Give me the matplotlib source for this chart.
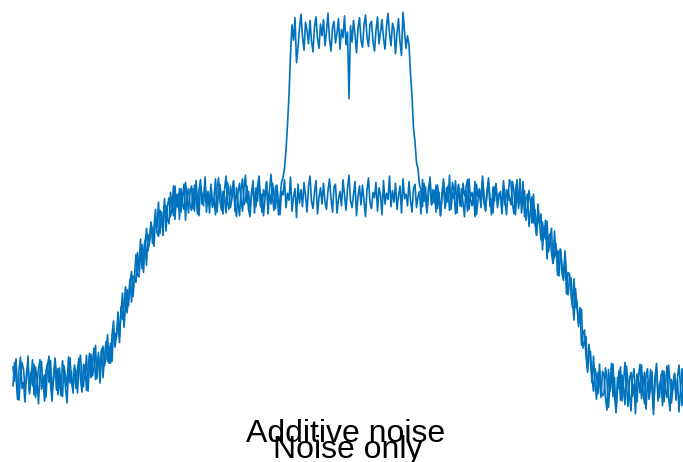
import numpy as np
import matplotlib.pyplot as plt

# power spectrum (dB) per frequency bin
noise_only = [
    -79.1, -80.7, -78.2, -81.9, -82.8, -80.0, -78.6, -79.4, -81.4, -80.5,
    -77.9, -82.1, -79.7, -81.2, -78.8, -82.5, -81.0, -79.3, -78.3, -81.6,
    -80.2, -82.9, -79.5, -78.7, -80.8, -78.4, -81.7, -80.6, -78.1, -79.9,
    -82.2, -79.2, -81.1, -82.4, -79.0, -80.1, -81.3, -78.0, -80.9, -79.6,
    -82.0, -78.9,
    # rising edge
    -81.5, -79.3, -78.1, -80.5, -81.9, -78.8, -80.0, -77.8, -81.8, -78.9,
    -77.7, -80.1, -79.1, -76.7, -80.4, -78.0, -79.4, -77.1, -80.3, -77.9,
    -76.3, -78.5, -76.9, -78.7, -75.6, -74.0, -76.9, -75.5, -73.9, -76.4,
    -72.4, -73.8, -72.4, -70.2, -73.1, -71.5, -69.4, -71.9, -69.0, -69.1,
    -69.7, -66.4, -68.4, -64.9, -68.2, -66.3, -65.0, -67.8, -64.4, -65.1,
    -63.0, -65.4, -63.5, -61.6, -64.2, -64.6, -61.7, -62.4, -62.9, -60.4,
    -64.0, -61.2, -60.3, -62.4, -61.5, -59.0, -62.7, -60.0, -61.4, -59.3,
    -61.9, -60.2, -58.8, -62.8, -59.9, -59.3, -61.1, -61.7,
    -59.3, -61.8, -58.4, -60.6, -62.3, -59.0, -59.9, -61.2, -58.0, -60.9,
    -59.6, -62.0,
    # flat top
    -59.1, -61.4, -60.3, -58.2, -61.9, -59.7, -58.8, -60.6, -62.1, -59.4,
    -57.9, -60.8, -61.6, -59.0, -60.2, -58.5, -61.2, -62.4, -59.8, -58.7,
    -60.5, -61.8, -59.3, -57.8, -60.9, -59.6, -61.5, -60.1, -58.4, -62.0,
    -59.2, -60.7, -58.1, -61.3, -59.9, -62.3, -60.4, -58.6, -61.0, -59.5,
    -57.7, -60.3, -61.7, -59.1, -58.9, -61.1, -62.2, -59.6, -60.0, -58.3,
    -61.4, -59.8, -60.6, -58.0, -61.8, -60.2, -59.3, -62.5, -58.8, -60.9,
    -59.4, -61.3, -58.6, -60.1, -61.9, -59.0, -57.9, -60.7, -61.5, -59.7,
    -58.4, -62.1, -60.3, -59.2, -61.0, -58.7, -60.8, -61.6, -59.5, -58.2,
    -60.4, -61.9, -59.1, -58.8, -62.0, -60.5, -59.6, -61.2, -58.3, -60.0,
    -61.7, -59.3, -57.8, -60.6, -61.4, -59.9, -58.5, -62.3, -60.2, -59.0,
    -61.1, -58.9, -60.7, -62.4, -59.4, -58.1, -60.9, -61.5, -59.7, -60.3,
    -58.6, -61.8, -59.2, -60.0, -62.2, -58.4, -61.0, -59.8, -60.5, -57.9,
    -61.3, -59.5, -60.8, -58.7, -61.6, -60.1, -59.0, -62.0, -58.2, -60.4,
    -59.9, -61.2, -58.5, -60.6, -61.9, -59.3, -58.8, -61.4, -60.2, -59.6,
    -62.1, -58.3, -60.7, -59.1, -61.7, -60.0, -58.0, -61.0, -59.4, -60.9,
    -58.9, -61.5, -59.7, -62.3, -60.3, -58.6, -61.1, -59.2, -60.8, -57.8,
    -61.6, -59.8, -60.4, -58.4, -62.0, -59.0, -60.6, -61.3, -58.7, -60.1,
    -59.5, -61.8, -58.2, -60.5, -61.2, -59.9, -62.4, -58.8, -60.2, -59.3,
    -61.0, -58.5, -60.9, -61.7, -59.6, -58.1, -60.3, -62.2, -59.1, -60.7,
    -58.7, -61.4, -59.8, -60.0, -62.1, -58.9, -61.1, -59.4, -60.6, -58.3,
    # falling edge
    -58.6, -61.0, -62.1, -59.5, -58.3, -61.5, -60.0, -61.0, -58.5, -62.4,
    -60.4, -59.9, -63.5, -61.6, -60.2, -63.1, -61.6, -64.5, -61.0, -63.1,
    -65.0, -63.0, -64.7, -62.8, -67.1, -64.7, -64.3, -66.5, -67.6, -64.0,
    -66.8, -66.2, -69.0, -66.1, -67.8, -69.2, -66.7, -71.0, -68.6, -68.8,
    -71.1, -72.5, -69.3, -72.5, -71.8, -74.6, -72.5, -76.7, -75.4, -75.0,
    -77.9, -79.4, -76.6, -78.5, -80.8, -77.9, -80.9, -82.7, -79.7, -80.6,
    -82.5, -79.6,
    -80.0, -82.6, -83.9, -79.4, -81.8, -80.7, -78.8, -82.2, -84.1, -80.3,
    -81.5, -79.1, -82.9, -80.9, -78.6, -81.2, -83.5, -80.4, -79.7, -82.4,
    -81.0, -84.3, -79.9, -80.6, -82.0, -78.9, -81.7, -83.2, -80.2, -79.3,
    -82.7, -81.4, -79.6, -83.7, -80.8, -78.7, -81.9, -82.5, -80.1, -79.5,
    -83.0, -81.1, -79.0, -82.3, -84.0, -80.5, -81.6, -79.8, -82.8, -80.3,
    -78.9, -81.3, -83.4, -80.7,
]

additive_noise = [
    -81.2, -78.6, -80.1, -82.7, -79.4, -78.0, -81.5, -80.8, -83.0, -79.7,
    -78.9, -81.9, -80.4, -78.3, -82.2, -79.1, -80.6, -83.2, -79.8, -78.5,
    -81.3, -80.0, -82.5, -79.0, -77.9, -81.0, -82.9, -80.2, -78.7, -81.7,
    -79.3, -80.9, -82.3, -78.4, -79.9, -81.4, -83.1, -79.6, -78.1, -80.7,
    -81.8, -79.2,
    # rising edge
    -79.6, -82.0, -78.8, -77.8, -80.7, -81.3, -78.9, -81.7, -79.3, -77.6,
    -80.3, -78.7, -77.0, -80.5, -79.1, -77.5, -80.9, -77.6, -76.8, -79.0,
    -78.0, -75.5, -78.7, -76.5, -78.5, -75.1, -75.4, -75.8, -73.0, -75.8,
    -73.1, -70.9, -74.7, -72.3, -70.5, -72.3, -69.7, -68.5, -71.3, -69.1,
    -66.6, -68.9, -69.1, -66.6, -65.5, -68.6, -65.6, -63.7, -66.2, -65.3,
    -63.1, -64.0, -65.7, -62.6, -63.6, -60.8, -64.3, -61.9, -64.5, -61.1,
    -61.2, -62.7, -63.2, -59.7, -61.2, -62.3, -59.0, -61.3, -59.9, -62.7,
    -59.3, -61.1, -61.6, -58.6, -60.1, -62.0, -59.7, -59.0,
    -61.5, -58.9, -60.0, -62.1, -59.4, -58.3, -61.0, -60.6, -58.7, -61.9,
    -59.8, -60.9,
    -58.8, -61.2, -60.4, -62.2, -59.3, -58.1, -60.7, -61.7, -59.6, -60.1,
    -62.0, -58.6, -59.9, -61.4, -60.3, -58.4, -61.8, -59.2, -60.9, -62.3,
    -59.5, -58.2, -61.1, -60.5, -59.0, -61.6, -62.4, -59.7, -58.9, -60.8,
    -61.3, -59.1, -57.9, -60.6, -61.9, -59.4, -60.2, -58.5, -62.1, -59.8,
    -61.0, -58.7, -60.0, -61.5, -59.3, -62.2, -60.4, -58.6,
    # signal band
    -58.1, -57.0, -55.0, -52.2, -48.9, -44.4,
    -41.1, -42.8, -40.3, -45.3, -43.6, -41.5, -39.9, -42.4, -43.9, -40.8,
    -41.7, -43.2, -40.6, -42.9, -44.1, -41.3, -40.2, -42.6, -43.7, -41.0,
    -42.3, -40.5, -43.4, -41.8, -39.8, -42.7, -44.0, -41.4, -40.7, -43.1,
    -42.0, -40.4, -43.8, -41.6, -42.5, -40.1, -43.3, -41.9,
    -49.3,
    -41.2, -43.0, -40.6, -42.2, -44.2, -41.5, -40.3, -42.8, -43.6, -41.1,
    -40.0,
    -42.4, -43.5, -41.0, -40.7, -42.9, -44.0, -41.7, -40.2, -43.2, -41.9,
    -40.5, -42.6, -43.8, -41.3, -39.8, -42.1, -43.4, -40.9, -41.6, -44.3,
    -42.0, -40.4, -43.0, -44.5, -39.7, -41.8, -43.7, -42.3,
    -43.3, -46.5, -49.0, -52.6, -54.1, -56.4, -57.1, -58.9, -59.4,
    -61.3, -58.7, -60.5, -62.0, -59.2, -58.4, -61.1, -60.7, -59.5, -61.9,
    -58.9, -60.2, -62.3, -59.8, -58.2, -61.5, -60.4, -59.0, -61.7, -60.9,
    -58.6, -59.6, -62.1, -60.3, -58.8, -61.2, -59.3, -60.8, -62.4, -59.1,
    -58.3, -61.6, -60.1, -59.7, -61.0, -58.5, -62.2, -60.6, -59.4, -61.4,
    -57.9, -60.0, -61.8, -59.9, -58.7, -61.3, -60.5, -62.0, -59.2, -58.9,
    -61.1, -60.2, -59.6, -61.9, -58.4, -60.7, -62.2, -59.5, -60.3,
    # falling edge
    -61.1, -58.5, -59.7, -62.2, -59.2, -60.9, -58.2, -62.0, -60.4, -59.5,
    -62.8, -61.4, -59.5, -60.9, -63.1, -59.9, -63.2, -64.4, -62.1, -63.2,
    -62.1, -66.1, -63.6, -64.9, -62.9, -66.3, -65.1, -63.7, -67.6, -66.7,
    -65.4, -68.9, -66.3, -66.0, -68.7, -69.5, -66.2, -68.9, -71.1, -69.3,
    -69.2, -71.7, -73.9, -70.4, -72.3, -74.3, -73.1, -72.7, -77.0, -76.4,
    -75.7, -79.7, -77.8, -77.4, -80.4, -81.8, -79.3, -80.2, -82.1, -78.8,
    -81.6, -82.3,
    -82.1, -79.2, -80.6, -83.6, -81.0, -78.7, -82.4, -80.3, -84.2, -81.7,
    -79.5, -82.8, -80.0, -81.4, -83.3, -79.0, -80.9, -82.2, -84.0, -80.4,
    -79.3, -81.9, -83.0, -80.1, -78.8, -82.6, -81.2, -79.7, -83.8, -80.8,
    -82.0, -79.4, -81.5, -84.4, -80.2, -79.1, -82.9, -81.1, -80.5, -83.4,
    -79.6, -81.8, -82.5, -78.9, -80.7, -83.1, -81.3, -79.9, -82.3, -80.6,
    -84.1, -81.6, -79.3, -82.7,
]

labels = ['Additive noise', 'Noise only']

plt.rcParams['font.family'] = ['Liberation Sans', 'DejaVu Sans']

fig = plt.figure(figsize=(6.83, 4.62), dpi=100)
ax = fig.add_axes([0, 0, 1, 1])

blue = '#0072BD'
ax.plot(np.arange(len(additive_noise)), additive_noise, color=blue, lw=1.2)
ax.plot(np.arange(len(noise_only)), noise_only, color=blue, lw=1.2)

ax.set_xlim(-8.67, 446.67)
ax.set_ylim(-89.67, -38.33)
ax.axis('off')

fig.text(0.5066, 0.0433, labels[0], ha='center', va='baseline', fontsize=23)
fig.text(0.5095, 0.0087, labels[1], ha='center', va='baseline', fontsize=23)

fig.savefig('out.png', dpi=100)
